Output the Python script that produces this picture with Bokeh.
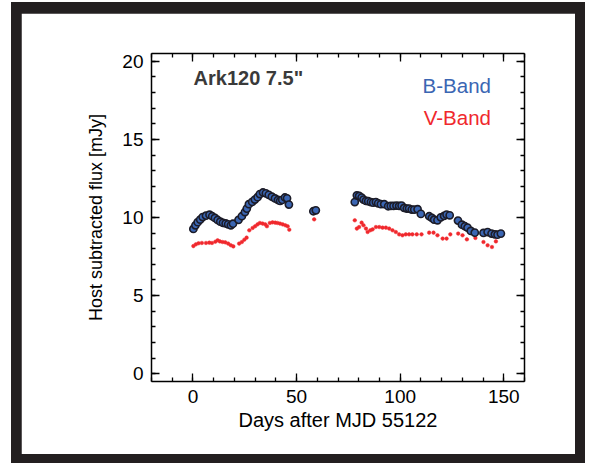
from bokeh.plotting import figure
from bokeh.models import Range1d, LinearAxis, SingleIntervalTicker, Label, ColumnDataSource, CustomJSTickFormatter
from bokeh.layouts import column
from bokeh.embed import file_html
from bokeh.resources import INLINE

# ---- data ----
b_days = [0.2, 1.2, 2.3, 3.5, 4.7, 6.3, 8.0, 9.3, 10.6, 11.9, 13.2, 14.5, 15.8, 17.0, 18.3, 19.3,
          22.0, 23.6, 25.1, 26.0, 27.0, 28.6, 29.9, 31.2, 32.3, 33.8, 35.2, 36.6, 38.1, 39.6, 41.0, 42.1, 43.1, 44.4, 45.4, 46.3,
          58.1, 59.3,
          78.1, 79.1, 80.2, 81.4, 82.3, 83.5, 84.6, 85.9, 87.0, 88.3, 89.4, 90.7, 92.3, 94.2, 95.5, 96.8, 98.2, 99.5, 100.7, 101.9,
          103.2, 104.3, 105.6, 106.8, 108.4, 110.0, 114.0, 115.3, 116.4, 118.0, 119.6, 121.2, 122.4, 123.9, 127.9, 129.8, 131.2,
          132.5, 134.1, 136.0, 140.2, 142.2, 144.1, 145.7, 147.0, 148.6]
b_flux = [9.27, 9.50, 9.70, 9.87, 10.03, 10.12, 10.18, 10.08, 9.97, 9.84, 9.73, 9.66, 9.62, 9.56, 9.50, 9.60,
          9.85, 10.08, 10.35, 10.57, 10.85, 11.00, 11.15, 11.30, 11.50, 11.60, 11.55, 11.45, 11.33, 11.22, 11.12, 11.06, 11.13, 11.28, 11.23, 10.83,
          10.40, 10.46,
          10.99, 11.42, 11.38, 11.27, 11.15, 11.06, 11.04, 10.99, 10.95, 10.99, 10.91, 10.85, 10.85, 10.72, 10.74, 10.74, 10.76, 10.74, 10.76, 10.61,
          10.57, 10.57, 10.51, 10.51, 10.53, 10.23, 10.08, 9.97, 9.86, 9.82, 10.01, 10.10, 10.19, 10.14, 9.80, 9.54, 9.44,
          9.35, 9.14, 9.03, 9.01, 9.07, 8.97, 8.92, 8.90, 8.97]

v_days = [0.2, 1.4, 2.7, 4.3, 6.3, 7.9, 9.2, 10.8, 11.9, 13.0, 14.3, 15.6, 17.0, 18.3, 19.5,
          22.3, 23.6, 24.8, 25.9, 27.2, 28.8, 30.0, 31.2, 32.3, 33.6, 34.9, 35.7, 37.1, 38.4, 39.7, 40.8, 42.0, 43.3, 44.6, 45.7, 46.5,
          58.5,
          78.1, 79.1, 80.2, 81.4, 82.3, 83.5, 84.3, 85.6, 86.7, 88.3, 89.9, 91.5, 93.1, 94.7, 96.3, 97.9, 99.5, 101.1, 102.7, 104.3,
          105.9, 108.0, 110.3, 114.0, 116.1, 118.0, 120.5, 122.4, 124.2, 128.0, 130.1, 132.2, 136.3, 140.2, 142.2, 144.3, 146.2]
v_flux = [8.17, 8.28, 8.35, 8.37, 8.37, 8.39, 8.37, 8.45, 8.54, 8.47, 8.43, 8.41, 8.33, 8.22, 8.15,
          8.33, 8.43, 8.58, 8.71, 9.18, 9.33, 9.44, 9.56, 9.65, 9.61, 9.56, 9.44, 9.65, 9.69, 9.67, 9.65, 9.61, 9.56, 9.50, 9.44, 9.22,
          9.88,
          9.82, 9.29, 9.39, 9.67, 9.50, 9.29, 9.07, 9.18, 9.24, 9.39, 9.39, 9.35, 9.35, 9.29, 9.18, 9.07, 8.92, 8.86, 8.92, 8.92,
          8.92, 8.92, 8.92, 9.03, 9.03, 8.86, 8.65, 8.65, 8.92, 8.97, 8.86, 8.60, 8.69, 8.43, 8.22, 8.11, 8.47]

x_label = "Days after MJD 55122"
y_label = "Host subtracted flux [mJy]"
title_text = 'Ark120 7.5"'
b_name = "B-Band"
v_name = "V-Band"

FONT = "Liberation Sans"

p = figure(width=554, height=441,
           x_range=Range1d(-20, 160), y_range=Range1d(-0.5, 20.5),
           x_axis_type=None, y_axis_type=None,
           output_backend="svg", toolbar_location=None,
           min_border_left=130, min_border_right=51, min_border_top=40, min_border_bottom=73)
p.outline_line_color = None
p.background_fill_color = "white"
p.border_fill_color = "white"


def style_axis(ax, show_labels):
    ax.axis_line_color = "black"
    ax.axis_line_width = 1.5
    ax.major_tick_line_color = "black"
    ax.minor_tick_line_color = "black"
    ax.major_tick_line_width = 1.3
    ax.minor_tick_line_width = 1.3
    ax.major_tick_in = 8
    ax.major_tick_out = 0
    ax.minor_tick_in = 4
    ax.minor_tick_out = 0
    ax.major_label_text_font = FONT
    ax.major_label_text_color = "black"
    ax.axis_label_text_color = "black"
    if show_labels:
        ax.major_label_text_font_size = "19px"
        ax.major_label_standoff = 8
    else:
        ax.major_label_text_font_size = "0px"
        ax.major_label_standoff = 0
        ax.formatter = CustomJSTickFormatter(code="return ''")


xb = LinearAxis(ticker=SingleIntervalTicker(interval=50, num_minor_ticks=5))
style_axis(xb, True)
xb.axis_label = x_label
xb.axis_label_text_font = FONT
xb.axis_label_text_font_size = "20px"
xb.axis_label_text_font_style = "normal"
xb.axis_label_standoff = 3
p.add_layout(xb, "below")

xt = LinearAxis(ticker=SingleIntervalTicker(interval=50, num_minor_ticks=5))
style_axis(xt, False)
p.add_layout(xt, "above")

yl = LinearAxis(ticker=SingleIntervalTicker(interval=5, num_minor_ticks=5))
style_axis(yl, True)
yl.axis_label = y_label
yl.axis_label_text_font = FONT
yl.axis_label_text_font_size = "18px"
yl.axis_label_text_font_style = "normal"
yl.axis_label_standoff = 13
p.add_layout(yl, "left")

yr = LinearAxis(ticker=SingleIntervalTicker(interval=5, num_minor_ticks=5))
style_axis(yr, False)
p.add_layout(yr, "right")

src_v = ColumnDataSource(dict(x=v_days, y=v_flux))
src_b = ColumnDataSource(dict(x=b_days, y=b_flux))
p.scatter("x", "y", source=src_v, size=3.6, fill_color="#f0282d", line_color="#f0282d", line_width=0.5)
p.scatter("x", "y", source=src_b, size=7.2, fill_color="#3b66b3", line_color="#1c1c28", line_width=1.6)

p.add_layout(Label(x=0.3, y=18.92, text=title_text, text_font=FONT, text_font_size="20px",
                   text_font_style="bold", text_color="#3a3a3a", text_align="left", text_baseline="alphabetic"))
p.add_layout(Label(x=143.8, y=18.43, text=b_name, text_font=FONT, text_font_size="20.5px",
                   text_color="#3b66b3", text_align="right", text_baseline="alphabetic"))
p.add_layout(Label(x=143.8, y=16.42, text=v_name, text_font=FONT, text_font_size="20.5px",
                   text_color="#f0282d", text_align="right", text_baseline="alphabetic"))

page = column(p, margin=(2, 0, 0, 11),
              styles={"background-color": "#231f20", "padding": "11px 10px 9px 10px"})

open("out.html", "w").write(file_html(page, INLINE))
